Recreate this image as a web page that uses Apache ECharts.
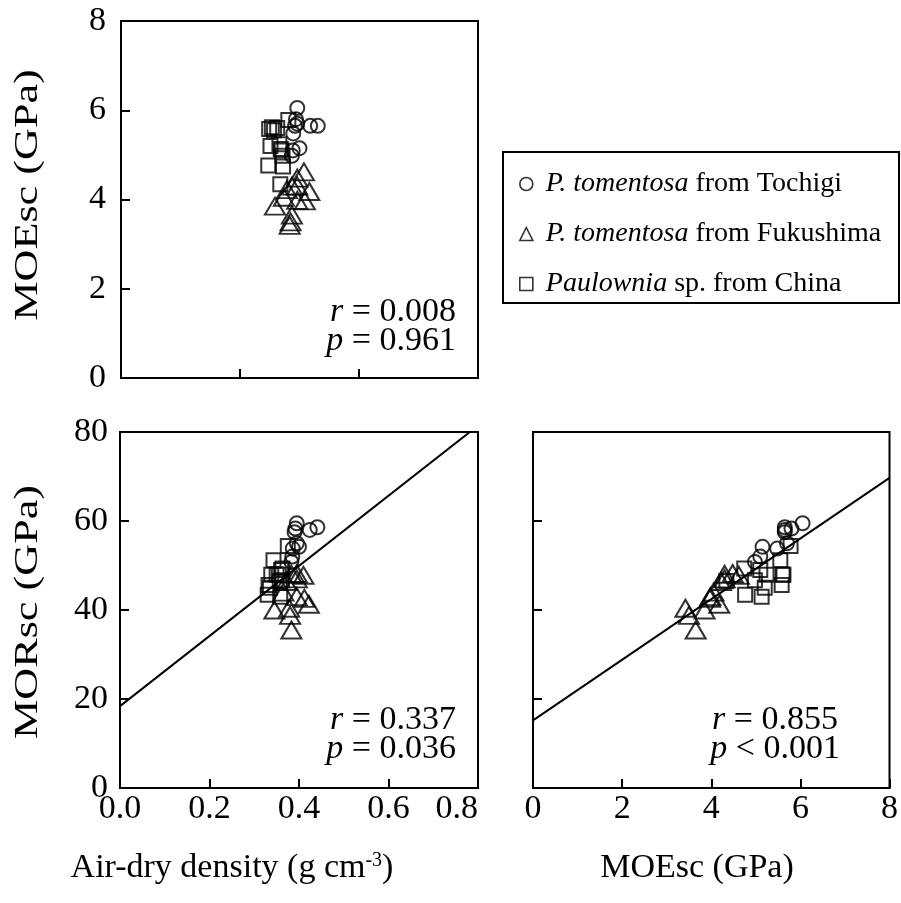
<!DOCTYPE html>
<html>
<head>
<meta charset="utf-8">
<script src="https://cdn.jsdelivr.net/npm/echarts@6/dist/echarts.min.js"></script>
<style>
  html, body { margin: 0; padding: 0; background: #fff; }
  #chart { width: 901px; height: 903px; }
</style>
</head>
<body>
<div id="chart"></div>
<script>
// ---- Data ----
var groupNames = ['P. tomentosa from Tochigi', 'P. tomentosa from Fukushima', 'Paulownia sp. from China'];

var densityTochigi = [0.395, 0.424, 0.441, 0.392, 0.386, 0.400, 0.383, 0.390, 0.385, 0.395];
var moeTochigi     = [6.05, 5.65, 5.65, 5.80, 5.48, 5.15, 4.98, 5.65, 5.10, 5.70];
var morTochigi     = [59.5, 58.0, 58.6, 58.3, 53.8, 54.2, 50.8, 57.5, 52.0, 55.0];

var densityFukushima = [0.383, 0.380, 0.345, 0.378, 0.395, 0.422, 0.412, 0.383, 0.395, 0.410, 0.365, 0.395, 0.372];
var moeFukushima     = [3.65, 3.50, 3.85, 3.42, 3.98, 4.18, 3.97, 4.30, 4.48, 4.62, 4.05, 4.30, 4.22];
var morFukushima     = [35.5, 38.8, 40.0, 40.4, 43.0, 41.3, 42.6, 48.0, 48.2, 47.8, 44.0, 47.0, 46.4];

var densityChina = [0.375, 0.343, 0.338, 0.332, 0.355, 0.358, 0.360, 0.330, 0.363, 0.357, 0.362, 0.335, 0.350];
var moeChina     = [5.78, 5.55, 5.62, 5.58, 5.24, 5.13, 5.10, 4.76, 4.74, 4.34, 4.98, 5.20, 5.60];
var morChina     = [54.4, 51.2, 47.9, 45.6, 47.9, 43.0, 49.0, 43.4, 49.3, 46.5, 46.7, 45.0, 48.0];

// regression fits: [intercept, slope]
var fitMORvsDensity = [18.4, 78.8];
var fitMORvsMOE = [15.2, 6.81];

// axis tick values
var moeTicks = [0, 2, 4, 6, 8];
var morTicks = [0, 20, 40, 60, 80];
var densityTicks = [0.0, 0.2, 0.4, 0.6, 0.8];

// statistics text
var statsA = ['0.008', '= 0.961'];
var statsB = ['0.337', '= 0.036'];
var statsC = ['0.855', '< 0.001'];

// ---- helpers ----
function zip(a, b) { return a.map(function (v, i) { return [v, b[i]]; }); }
function fitLine(fit, x0, x1) { return [[x0, fit[0] + fit[1] * x0], [x1, fit[0] + fit[1] * x1]]; }

var FONT = 'Liberation Serif, Times New Roman, serif';
var symbols = [
  { symbol: 'circle', size: 14 },
  { symbol: 'triangle', size: [20, 17] },
  { symbol: 'rect', size: 14 }
];
var markerStyle = { color: 'rgba(0,0,0,0)', borderColor: '#000', borderWidth: 2 };

var panelData = [
  [zip(densityTochigi, moeTochigi), zip(densityFukushima, moeFukushima), zip(densityChina, moeChina)],
  [zip(densityTochigi, morTochigi), zip(densityFukushima, morFukushima), zip(densityChina, morChina)],
  [zip(moeTochigi, morTochigi), zip(moeFukushima, morFukushima), zip(moeChina, morChina)]
];

var series = [];
series.push({ type: 'line', xAxisIndex: 1, yAxisIndex: 1, data: fitLine(fitMORvsDensity, densityTicks[0], densityTicks[4]),
  showSymbol: false, symbol: 'none', clip: true, silent: true, lineStyle: { color: '#000', width: 2 }, z: 1 });
series.push({ type: 'line', xAxisIndex: 2, yAxisIndex: 2, data: fitLine(fitMORvsMOE, moeTicks[0], moeTicks[4]),
  showSymbol: false, symbol: 'none', clip: true, silent: true, lineStyle: { color: '#000', width: 2 }, z: 1 });
panelData.forEach(function (groups, gi) {
  groups.forEach(function (data, k) {
    series.push({
      type: 'scatter', name: groupNames[k], xAxisIndex: gi, yAxisIndex: gi,
      data: data, symbol: symbols[k].symbol, symbolSize: symbols[k].size,
      itemStyle: markerStyle, emphasis: { disabled: true }, z: 2
    });
  });
});

var axisLine = { show: true, lineStyle: { color: '#000', width: 2 } };
var tick = { show: true, inside: true, length: 9, lineStyle: { color: '#000', width: 2 } };
var labelStyle = { color: '#000', fontFamily: FONT, fontSize: 34 };
var statRich = { i: { fontStyle: 'italic', fontSize: 34, fontFamily: FONT } };

function statText(x, y, txt) {
  return { type: 'text', x: x, y: y, style: { text: txt, align: 'right', verticalAlign: 'middle', font: '34px ' + FONT, fill: '#000', rich: statRich } };
}

var option = {
  animation: false,
  backgroundColor: '#fff',
  grid: [
    { left: 121, top: 21, width: 357, height: 357, show: true, borderColor: '#000', borderWidth: 2 },
    { left: 120, top: 432, width: 358, height: 356, show: true, borderColor: '#000', borderWidth: 2 },
    { left: 533, top: 432, width: 359, height: 356, show: true, borderColor: '#000', borderWidth: 2 }
  ],
  xAxis: [
    { gridIndex: 0, type: 'value', min: densityTicks[0], max: densityTicks[4], interval: densityTicks[4] / 3,
      axisLine: axisLine, axisTick: tick, axisLabel: { show: false }, splitLine: { show: false } },
    { gridIndex: 1, type: 'value', min: densityTicks[0], max: densityTicks[4], interval: densityTicks[1],
      axisLine: axisLine, axisTick: tick, splitLine: { show: false },
      axisLabel: Object.assign({ margin: 4, alignMaxLabel: 'right', formatter: function (v) { return v.toFixed(1); } }, labelStyle) },
    { gridIndex: 2, type: 'value', min: moeTicks[0], max: moeTicks[4], interval: moeTicks[1],
      axisLine: axisLine, axisTick: tick, splitLine: { show: false },
      axisLabel: Object.assign({ margin: 4 }, labelStyle) }
  ],
  yAxis: [
    { gridIndex: 0, type: 'value', min: moeTicks[0], max: moeTicks[4], interval: moeTicks[1],
      axisLine: axisLine, axisTick: tick, splitLine: { show: false },
      axisLabel: Object.assign({ margin: 15 }, labelStyle) },
    { gridIndex: 1, type: 'value', min: morTicks[0], max: morTicks[4], interval: morTicks[1],
      axisLine: axisLine, axisTick: tick, splitLine: { show: false },
      axisLabel: Object.assign({ margin: 12 }, labelStyle) },
    { gridIndex: 2, type: 'value', min: morTicks[0], max: morTicks[4], interval: morTicks[1],
      axisLine: axisLine, axisTick: tick, splitLine: { show: false }, axisLabel: { show: false } }
  ],
  legend: {
    data: groupNames,
    orient: 'vertical',
    left: 514, top: 164,
    itemGap: 20,
    itemWidth: 13, itemHeight: 13,
    selectedMode: false,
    itemStyle: { borderWidth: 1.6 },
    textStyle: {
      fontFamily: FONT, fontSize: 28, color: '#000', lineHeight: 30,
      rich: { i: { fontFamily: FONT, fontSize: 28, fontStyle: 'italic', color: '#000', lineHeight: 30, padding: [0, 0, 0, 8] },
              n: { fontFamily: FONT, fontSize: 28, color: '#000', lineHeight: 30 } }
    },
    formatter: function (name) {
      if (name.indexOf('P. tomentosa') === 0) return '{i|P. tomentosa}{n|' + name.slice(12) + '}';
      if (name.indexOf('Paulownia') === 0) return '{i|Paulownia}{n|' + name.slice(9) + '}';
      return name;
    }
  },
  graphic: [
    { type: 'rect', shape: { x: 503, y: 152, width: 396, height: 151 }, style: { fill: 'none', stroke: '#000', lineWidth: 2 } },
    statText(456, 312, '{i|r} = ' + statsA[0]),
    statText(456, 341, '{i|p} ' + statsA[1]),
    statText(456, 720, '{i|r} = ' + statsB[0]),
    statText(456, 749, '{i|p} ' + statsB[1]),
    statText(838, 720, '{i|r} = ' + statsC[0]),
    statText(840, 749, '{i|p} ' + statsC[1]),
    { type: 'text', x: 28, y: 195, rotation: Math.PI / 2, scaleX: 1.3,
      style: { text: 'MOEsc (GPa)', align: 'center', verticalAlign: 'middle', font: '34px ' + FONT, fill: '#000' } },
    { type: 'text', x: 28, y: 612, rotation: Math.PI / 2, scaleX: 1.3,
      style: { text: 'MORsc (GPa)', align: 'center', verticalAlign: 'middle', font: '34px ' + FONT, fill: '#000' } },
    { type: 'text', x: 232, y: 868,
      style: { text: 'Air-dry density (g cm{s|-3})', align: 'center', verticalAlign: 'middle', font: '34px ' + FONT, fill: '#000',
        rich: { s: { fontSize: 20, fontFamily: FONT, verticalAlign: 'top', lineHeight: 34, padding: [0, 0, 14, 0] } } } },
    { type: 'text', x: 697, y: 868,
      style: { text: 'MOEsc (GPa)', align: 'center', verticalAlign: 'middle', font: '34px ' + FONT, fill: '#000' } }
  ],
  series: series
};

var chart = echarts.init(document.getElementById('chart'), null, { renderer: 'canvas' });
chart.setOption(option);
</script>
</body>
</html>
